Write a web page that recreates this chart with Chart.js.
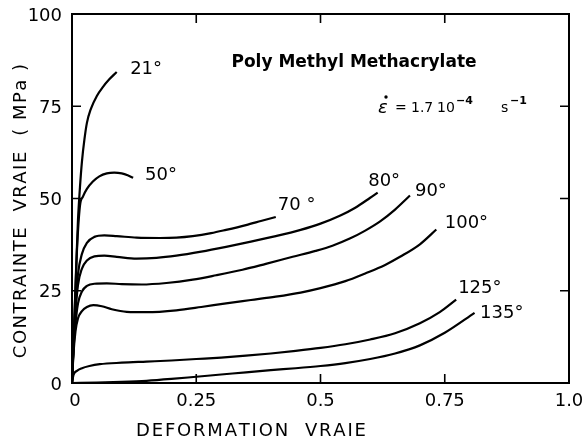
<!DOCTYPE html>
<html><head><meta charset="utf-8">
<script src="https://cdn.jsdelivr.net/npm/chart.js@4/dist/chart.umd.min.js"></script>
<style>html,body{margin:0;padding:0;background:#fff}#wrap{width:582px;height:439px}</style>
</head><body><div id="wrap"><canvas id="c" width="582" height="439"></canvas></div>
<script>
// ---- data (true strain, true stress MPa) ----
const strain21  = [0, 0.004, 0.008, 0.012, 0.016, 0.02, 0.025, 0.03, 0.038, 0.05, 0.062, 0.075, 0.09];
const stress21  = [0, 14, 30, 44, 53, 60, 66, 70.5, 74.3, 77.8, 80.2, 82.3, 84.3];
const strain50  = [0, 0.005, 0.01, 0.016, 0.022, 0.03, 0.042, 0.055, 0.07, 0.085, 0.1, 0.112, 0.123];
const stress50  = [0, 18, 36, 48, 50.5, 52.6, 54.6, 56, 56.8, 57, 56.8, 56.3, 55.6];
const strain70  = [0, 0.003, 0.007, 0.012, 0.02, 0.03, 0.045, 0.065, 0.09, 0.13, 0.177, 0.21, 0.243, 0.28, 0.31, 0.35, 0.38, 0.41];
const stress70  = [0, 11, 21, 29.5, 35, 38, 39.6, 40, 39.8, 39.4, 39.3, 39.4, 39.8, 40.6, 41.5, 42.8, 43.9, 45];
const strain80  = [0, 0.003, 0.007, 0.012, 0.02, 0.03, 0.045, 0.065, 0.09, 0.13, 0.17, 0.21, 0.26, 0.31, 0.36, 0.41, 0.46, 0.5, 0.54, 0.57, 0.6, 0.615];
const stress80  = [0, 10, 19, 26.5, 31, 33.2, 34.3, 34.5, 34.2, 33.7, 33.9, 34.5, 35.6, 36.9, 38.3, 39.8, 41.5, 43.2, 45.4, 47.5, 50.2, 51.6];
const strain90  = [0, 0.003, 0.007, 0.012, 0.02, 0.03, 0.045, 0.07, 0.1, 0.14, 0.19, 0.243, 0.29, 0.343, 0.39, 0.444, 0.49, 0.524, 0.56, 0.59, 0.62, 0.65, 0.68];
const stress90  = [0, 9, 16, 21.5, 24.8, 26.3, 26.9, 27, 26.8, 26.7, 27.1, 28, 29.2, 30.7, 32.3, 34.2, 35.8, 37.2, 39.2, 41.3, 43.8, 47, 50.8];
const strain100 = [0, 0.003, 0.007, 0.012, 0.02, 0.03, 0.043, 0.06, 0.08, 0.11, 0.15, 0.21, 0.26, 0.31, 0.36, 0.41, 0.46, 0.5, 0.55, 0.59, 0.63, 0.66, 0.7, 0.733];
const stress100 = [0, 8, 14, 17.5, 19.5, 20.6, 21.1, 20.8, 20.0, 19.3, 19.2, 19.7, 20.6, 21.6, 22.5, 23.4, 24.5, 25.7, 27.6, 29.7, 32.0, 34.2, 37.6, 41.6];
const strain125 = [0, 0.003, 0.01, 0.02, 0.035, 0.056, 0.1, 0.15, 0.2, 0.25, 0.3, 0.35, 0.4, 0.45, 0.5, 0.55, 0.6, 0.65, 0.7, 0.74, 0.773];
const stress125 = [0, 2.2, 3.3, 4.0, 4.6, 5.1, 5.5, 5.8, 6.1, 6.5, 6.9, 7.4, 8.0, 8.7, 9.5, 10.5, 11.8, 13.5, 16.2, 19.2, 22.6];
const strain135 = [0, 0.05, 0.1, 0.15, 0.2, 0.25, 0.3, 0.35, 0.4, 0.45, 0.5, 0.55, 0.6, 0.65, 0.7, 0.75, 0.81];
const stress135 = [0, 0.1, 0.3, 0.6, 1.1, 1.7, 2.3, 2.9, 3.5, 4.0, 4.6, 5.4, 6.5, 8.0, 10.2, 13.6, 19];

const curveNames   = ['21°', '50°', '70 °', '80°', '90°', '100°', '125°', '135°'];
const labelStrain  = [0.117, 0.147, 0.414, 0.596, 0.690, 0.750, 0.777, 0.821];
const labelStress  = [85.1, 56.4, 48.2, 54.7, 52.0, 43.4, 25.7, 19.0];

const xTickValues = [0, 0.25, 0.5, 0.75, 1.0];
const xTickLabels = ['0', '0.25', '0.5', '0.75', '1.0'];
const yTickValues = [0, 25, 50, 75, 100];
const yTickLabels = ['0', '25', '50', '75', '100'];

const xTitle = 'DEFORMATION  VRAIE';
const yTitle = 'CONTRAINTE  VRAIE  ( MPa )';
const mainTitle = 'Poly Methyl Methacrylate';

const curves = [
  [strain21, stress21], [strain50, stress50], [strain70, stress70], [strain80, stress80],
  [strain90, stress90], [strain100, stress100], [strain125, stress125], [strain135, stress135]
];

const datasets = curves.map((c, i) => ({
  label: curveNames[i],
  data: c[0].map((x, j) => ({x: x, y: c[1][j]})),
  showLine: true,
  borderColor: '#000',
  borderWidth: 2.2,
  pointRadius: 0,
  cubicInterpolationMode: 'monotone',
  fill: false
}));

const FONT = '"DejaVu Sans", "Liberation Sans", sans-serif';

function spacedWidth(ctx, text, sp) {
  let w = 0;
  for (const ch of text) w += ctx.measureText(ch).width + sp;
  return w - sp;
}
function drawSpaced(ctx, text, cx, y, sp) {
  const w = spacedWidth(ctx, text, sp);
  let x = cx - w / 2;
  ctx.textAlign = 'left';
  for (const ch of text) { ctx.fillText(ch, x, y); x += ctx.measureText(ch).width + sp; }
}

const decor = {
  id: 'decor',
  afterDraw(chart) {
    const ctx = chart.ctx, a = chart.chartArea;
    const xs = chart.scales.x, ys = chart.scales.y;
    ctx.save();
    ctx.strokeStyle = '#000'; ctx.fillStyle = '#000';
    ctx.lineWidth = 2;
    ctx.strokeRect(a.left, a.top, a.right - a.left, a.bottom - a.top);
    const TL = 9;
    ctx.lineWidth = 1.6;
    ctx.beginPath();
    xTickValues.forEach(v => {
      if (v <= 0 || v >= 1) return;
      const px = xs.getPixelForValue(v);
      ctx.moveTo(px, a.bottom); ctx.lineTo(px, a.bottom - TL);
      ctx.moveTo(px, a.top); ctx.lineTo(px, a.top + TL);
    });
    yTickValues.forEach(v => {
      if (v <= 0 || v >= 100) return;
      const py = ys.getPixelForValue(v);
      ctx.moveTo(a.left, py); ctx.lineTo(a.left + TL, py);
      ctx.moveTo(a.right, py); ctx.lineTo(a.right - TL, py);
    });
    ctx.stroke();

    // tick labels
    ctx.font = '18px ' + FONT;
    ctx.textBaseline = 'middle';
    ctx.textAlign = 'center';
    xTickValues.forEach((v, i) => {
      ctx.fillText(xTickLabels[i], xs.getPixelForValue(v) + (i === 0 ? 3 : 0), a.bottom + 18);
    });
    ctx.textAlign = 'right';
    yTickValues.forEach((v, i) => {
      ctx.fillText(yTickLabels[i], a.left - 10, ys.getPixelForValue(v) + 2);
    });

    // axis titles
    ctx.font = '18px ' + FONT;
    ctx.textBaseline = 'middle';
    drawSpaced(ctx, xTitle, 251, 431, 1.8);
    ctx.save();
    ctx.translate(21, 211);
    ctx.rotate(-Math.PI / 2);
    ctx.font = '18px ' + FONT;
    drawSpaced(ctx, yTitle, 0, 0, 1.5);
    ctx.restore();

    // curve labels
    ctx.font = '18px ' + FONT;
    ctx.textAlign = 'left';
    ctx.textBaseline = 'middle';
    curveNames.forEach((n, i) => {
      ctx.fillText(n, xs.getPixelForValue(labelStrain[i]), ys.getPixelForValue(labelStress[i]));
    });

    // title annotation
    ctx.font = 'bold 17px ' + FONT;
    ctx.textAlign = 'center';
    ctx.textBaseline = 'alphabetic';
    ctx.fillText(mainTitle, 354, 67);

    // strain rate annotation
    ctx.textAlign = 'left';
    ctx.font = 'italic 18px ' + FONT;
    ctx.fillText('ε', 378, 113);
    ctx.beginPath(); ctx.arc(386, 97, 1.7, 0, Math.PI * 2); ctx.fill();
    ctx.font = '14px ' + FONT;
    ctx.fillText('=', 395, 112);
    ctx.fillText('1.7', 411, 112);
    ctx.fillText('10', 437, 112);
    ctx.font = 'bold 11px ' + FONT;
    ctx.fillText('−4', 456, 104);
    ctx.font = '14px ' + FONT;
    ctx.fillText('s', 501, 112);
    ctx.font = 'bold 11px ' + FONT;
    ctx.fillText('−1', 510, 104);
    ctx.restore();
  }
};

new Chart(document.getElementById('c'), {
  type: 'scatter',
  data: { datasets: datasets },
  options: {
    responsive: false,
    animation: false,
    layout: { padding: { top: 14, right: 13, left: 0, bottom: 0 } },
    plugins: { legend: { display: false }, tooltip: { enabled: false } },
    scales: {
      x: {
        type: 'linear', min: 0, max: 1,
        ticks: { display: false, stepSize: 0.25 },
        grid: { display: false }, border: { display: false },
        afterFit: s => { s.height = 56; }
      },
      y: {
        type: 'linear', min: 0, max: 100,
        ticks: { display: false, stepSize: 25 },
        grid: { display: false }, border: { display: false },
        afterFit: s => { s.width = 72; }
      }
    }
  },
  plugins: [decor]
});
</script></body></html>
